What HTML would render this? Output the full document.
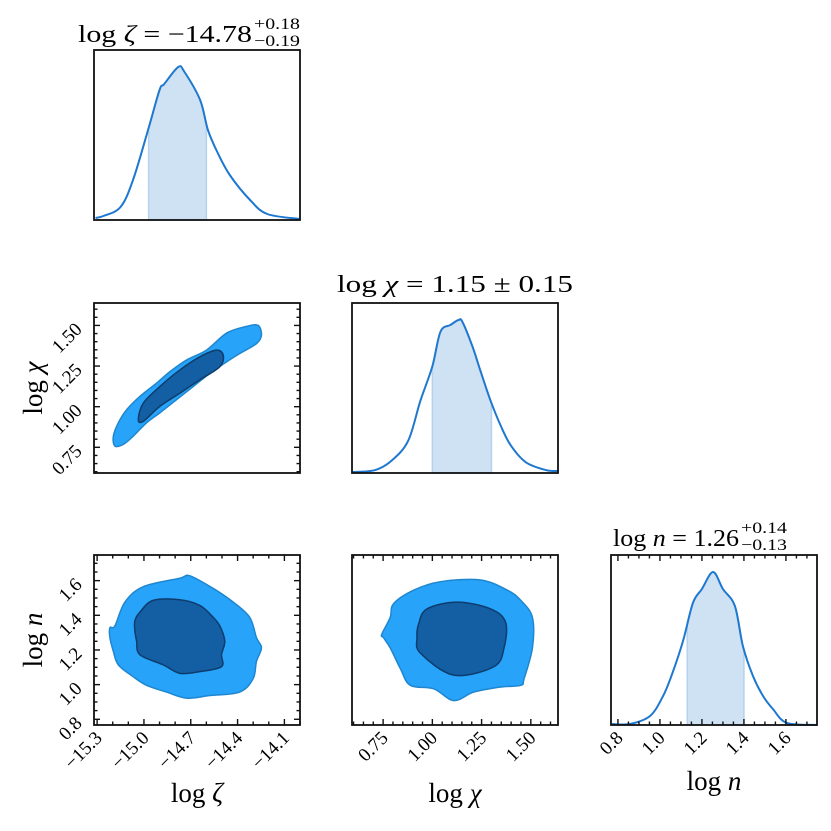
<!DOCTYPE html>
<html><head><meta charset="utf-8"><style>
html,body{margin:0;padding:0;background:#fff;}
svg{display:block;font-family:"Liberation Serif","DejaVu Serif",serif;}
</style></head><body>
<svg id="fig" width="831" height="831" viewBox="0 0 831 831" xmlns="http://www.w3.org/2000/svg">
<rect width="831" height="831" fill="#fff"/>
<g>
<text x="78" y="42" font-size="24" textLength="174" lengthAdjust="spacingAndGlyphs">log <tspan font-style="italic">ζ</tspan> = −14.78</text>
<text x="254" y="29" font-size="16" textLength="46" lengthAdjust="spacingAndGlyphs">+0.18</text>
<text x="254" y="46" font-size="16" textLength="46" lengthAdjust="spacingAndGlyphs">−0.19</text>
</g>
<g>
<text x="337" y="292" font-size="24" textLength="236" lengthAdjust="spacingAndGlyphs">log <tspan font-style="italic">χ</tspan> = 1.15 ± 0.15</text>
</g>
<g>
<text x="613" y="546" font-size="24" textLength="126" lengthAdjust="spacingAndGlyphs">log <tspan font-style="italic">n</tspan> = 1.26</text>
<text x="741" y="533" font-size="16" textLength="46" lengthAdjust="spacingAndGlyphs">+0.14</text>
<text x="741" y="550" font-size="16" textLength="46" lengthAdjust="spacingAndGlyphs">−0.13</text>
</g>
<text x="197" y="802" font-size="27" text-anchor="middle">log <tspan font-style="italic">ζ</tspan></text>
<text x="455" y="802" font-size="27" text-anchor="middle">log <tspan font-style="italic">χ</tspan></text>
<text x="714" y="790" font-size="27" text-anchor="middle">log <tspan font-style="italic">n</tspan></text>
<text x="0" y="0" font-size="27" text-anchor="middle" transform="translate(42,388) rotate(-90)">log <tspan font-style="italic">χ</tspan></text>
<text x="0" y="0" font-size="27" text-anchor="middle" transform="translate(42,640) rotate(-90)">log <tspan font-style="italic">n</tspan></text>
</svg>
<script>
const zetaGrid = [-15.31,-15.26,-15.15,-15.07,-14.97,-14.90,-14.87,-14.78,-14.74,-14.64,-14.59,-14.53,-14.45,-14.32,-14.21,-14.0];
const zetaDens = [2,4,13,40,92,130,136,153,148,120,90,68,45,20,6,1];
const chiGrid = [0.592,0.71,0.796,0.878,0.939,1.0,1.041,1.092,1.133,1.153,1.204,1.245,1.296,1.347,1.398,1.474,1.576,1.642];
const chiDens = [1,3,13,33,73,108,143,150,155,153,128,103,73,48,28,11,3,2];
const nGrid = [0.772,0.857,0.953,1.015,1.058,1.110,1.157,1.200,1.253,1.300,1.357,1.395,1.443,1.491,1.538,1.605,1.748];
const nDens = [1,1,9,29,51,84,122,136,153,136,119,79,49,29,16,2,0];
const medians = [-14.78, 1.15, 1.26];
const errLo = [0.19, 0.15, 0.13];
const errHi = [0.18, 0.15, 0.14];
const zcOuterX = [-15.186,-15.196,-15.164,-15.11,-15.026,-14.919,-14.834,-14.727,-14.599,-14.47,-14.343,-14.268,-14.247,-14.279,-14.386,-14.47,-14.578,-14.684,-14.791,-14.898,-14.983,-15.068,-15.132];
const zcOuterY = [0.758,0.819,0.901,0.982,1.063,1.145,1.215,1.287,1.348,1.453,1.494,1.50,1.439,1.388,1.327,1.276,1.205,1.124,1.043,0.962,0.901,0.819,0.768];
const zcInnerX = [-15.036,-15.004,-14.898,-14.77,-14.642,-14.535,-14.492,-14.514,-14.642,-14.77,-14.898,-15.004];
const zcInnerY = [0.921,1.022,1.124,1.226,1.307,1.348,1.317,1.246,1.165,1.083,1.002,0.910];
const znOuterX = [-15.218,-15.186,-15.122,-15.004,-14.77,-14.706,-14.556,-14.428,-14.322,-14.279,-14.247,-14.279,-14.3,-14.386,-14.578,-14.727,-14.855,-14.983,-15.068,-15.164,-15.196,-15.218];
const znOuterY = [1.329,1.339,1.476,1.565,1.614,1.628,1.555,1.476,1.388,1.271,1.212,1.134,1.035,0.957,0.937,0.922,0.957,0.996,1.045,1.114,1.192,1.271];
const znInnerX = [-15.058,-15.026,-14.941,-14.77,-14.642,-14.556,-14.514,-14.482,-14.503,-14.503,-14.642,-14.77,-14.876,-15.026,-15.047,-15.058];
const znInnerY = [1.369,1.418,1.486,1.49,1.457,1.388,1.339,1.251,1.173,1.104,1.075,1.065,1.114,1.173,1.251,1.31];
const cnOuterX = [0.743,0.786,0.803,0.905,1.041,1.245,1.381,1.449,1.508,1.508,1.466,1.449,1.347,1.211,1.109,1.007,0.888,0.837,0.786,0.752];
const cnOuterY = [1.290,1.388,1.467,1.545,1.594,1.604,1.545,1.486,1.388,1.212,1.035,0.996,0.986,0.957,0.908,0.976,0.996,1.094,1.212,1.271];
const cnInnerX = [0.93,0.973,1.126,1.296,1.372,1.364,1.313,1.109,0.939,0.922];
const cnInnerY = [1.349,1.437,1.476,1.437,1.359,1.212,1.104,1.055,1.182,1.271];
const zetaTicks = [-15.3,-15.0,-14.7,-14.4,-14.1];
const zetaTickLabels = ["−15.3","−15.0","−14.7","−14.4","−14.1"];
const chiTicks = [0.75,1.00,1.25,1.50];
const chiTickLabels = ["0.75","1.00","1.25","1.50"];
const nTicks = [0.8,1.0,1.2,1.4,1.6];
const nTickLabels = ["0.8","1.0","1.2","1.4","1.6"];

const NS = "http://www.w3.org/2000/svg";
const svg = document.getElementById('fig');
const colX = [[94,300],[352,558],[611,817]];
const rowY = [[50,220],[303,473],[555,725]];
const ranges = [[-15.32,-14.0],[0.592,1.638],[0.767,1.748]];
const minorStep = [0.1,0.05,0.05];
function sx(i,v){const [a,b]=ranges[i];return colX[i][0]+(v-a)/(b-a)*(colX[i][1]-colX[i][0]);}
function sy(i,v){const [a,b]=ranges[i];return rowY[i][1]-(v-a)/(b-a)*(rowY[i][1]-rowY[i][0]);}
function el(tag,attrs,parent){const e=document.createElementNS(NS,tag);for(const k in attrs)e.setAttribute(k,attrs[k]);(parent||svg).appendChild(e);return e;}
// Catmull-Rom smoothing
function smooth(pts,closed){
  const n=pts.length; if(n<2)return '';
  const P=k=>closed?pts[(k+n)%n]:pts[Math.max(0,Math.min(n-1,k))];
  let d=`M${pts[0][0]},${pts[0][1]}`;
  const last=closed?n:n-1;
  for(let k=0;k<last;k++){
    const p0=P(k-1),p1=P(k),p2=P(k+1),p3=P(k+2);
    const c1=[p1[0]+(p2[0]-p0[0])/6,p1[1]+(p2[1]-p0[1])/6];
    const c2=[p2[0]-(p3[0]-p1[0])/6,p2[1]-(p3[1]-p1[1])/6];
    d+=` C${c1[0]},${c1[1]} ${c2[0]},${c2[1]} ${p2[0]},${p2[1]}`;
  }
  return d+(closed?' Z':'');
}

function diag(i,grid,dens,name){
  const g=el('g',{});
  
  
  const mx=Math.max(...dens)/0.9;
  const bot=rowY[i][1],h=rowY[i][1]-rowY[i][0];
  const py=d=>bot-d/mx*h;
  const lo=medians[i]-errLo[i], hi=medians[i]+errHi[i];
  const interp=x=>{for(let k=0;k<grid.length-1;k++){if(x>=grid[k]&&x<=grid[k+1]){const t=(x-grid[k])/(grid[k+1]-grid[k]);return dens[k]+t*(dens[k+1]-dens[k]);}}return 0;};
  const inner=[[sx(i,lo),py(interp(lo))]];
  grid.forEach((x,k)=>{if(x>lo&&x<hi)inner.push([sx(i,x),py(dens[k])]);});
  inner.push([sx(i,hi),py(interp(hi))]);
  let sp=smooth(inner,false)+` L${sx(i,hi)},${bot} L${sx(i,lo)},${bot} Z`;
  const sh=el('path',{d:sp,fill:'#cfe2f3',stroke:'#b5d2ee','stroke-width':1.5},g);
  
  
  const pts=grid.map((x,k)=>[sx(i,x),py(dens[k])]);
  const ln=el('path',{d:smooth(pts,false),fill:'none',stroke:'#1f78d0','stroke-width':2,'stroke-linejoin':'round'},g);
  
  
}
function contour(ix,iy,xs,ys,fill,stroke,name){
  const pts=xs.map((x,k)=>[sx(ix,x),sy(iy,ys[k])]);
  const p=el('path',{d:smooth(pts,true),fill:fill,stroke:stroke,'stroke-width':1.5,'stroke-linejoin':'round'});
  
  
}
function ticksFor(i){return [zetaTicks,chiTicks,nTicks][i];}
function labelsFor(i){return [zetaTickLabels,chiTickLabels,nTickLabels][i];}
function frame(c,r,opts){
  const [x0,x1]=colX[c],[y0,y1]=rowY[r];
  const g=el('g',{});
  
  
  el('rect',{x:x0,y:y0,width:x1-x0,height:y1-y0,fill:'none',stroke:'#111','stroke-width':1.8},g);
  const tk=(a,b,cc,dd)=>el('line',{x1:a,y1:b,x2:cc,y2:dd,stroke:'#111','stroke-width':1.4},g);
  if(opts.xt){
    const [a,b]=ranges[c], st=minorStep[c];
    for(let v=Math.ceil(a/st-1e-6)*st; v<=b+1e-9; v+=st){
      const isMaj=ticksFor(c).some(t=>Math.abs(t-v)<1e-6);
      const L=isMaj?6:3.5, x=sx(c,v);
      tk(x,y1,x,y1-L); tk(x,y0,x,y0+L);
    }
  }
  if(opts.yt){
    const [a,b]=ranges[r], st=minorStep[r];
    for(let v=Math.ceil(a/st-1e-6)*st; v<=b+1e-9; v+=st){
      const isMaj=ticksFor(r).some(t=>Math.abs(t-v)<1e-6);
      const L=isMaj?6:3.5, y=sy(r,v);
      tk(x0,y,x0+L,y); tk(x1,y,x1-L,y);
    }
  }
}
function xLabels(c){
  const y1=rowY[2][1];
  ticksFor(c).forEach((v,k)=>{
    const x=sx(c,v)+6, y=y1+14;
    const t=el('text',{x:0,y:0,'font-size':19,'text-anchor':'end',transform:`translate(${x},${y}) rotate(-45)`});
    t.textContent=labelsFor(c)[k];
    
    
  });
}
function yLabels(r){
  const x0=colX[0][0];
  ticksFor(r).forEach((v,k)=>{
    const y=sy(r,v)+5, x=x0-11;
    const t=el('text',{x:0,y:0,'font-size':19,'text-anchor':'end',transform:`translate(${x},${y}) rotate(-45)`});
    t.textContent=labelsFor(r)[k];
    
    
  });
}

diag(0,zetaGrid,zetaDens,'hist-zeta');
diag(1,chiGrid,chiDens,'hist-chi');
diag(2,nGrid,nDens,'hist-n');
contour(0,1,zcOuterX,zcOuterY,'#27a3fa','#1f86cf','contour-zeta-chi-outer');
contour(0,1,zcInnerX,zcInnerY,'#145ea3','#0d3d6c','contour-zeta-chi-inner');
contour(0,2,znOuterX,znOuterY,'#27a3fa','#1f86cf','contour-zeta-n-outer');
contour(0,2,znInnerX,znInnerY,'#145ea3','#0d3d6c','contour-zeta-n-inner');
contour(1,2,cnOuterX,cnOuterY,'#27a3fa','#1f86cf','contour-chi-n-outer');
contour(1,2,cnInnerX,cnInnerY,'#145ea3','#0d3d6c','contour-chi-n-inner');
frame(0,0,{});
frame(1,1,{});
frame(0,1,{yt:true});
frame(0,2,{xt:true,yt:true});
frame(1,2,{xt:true});
frame(2,2,{xt:true});
xLabels(0);xLabels(1);xLabels(2);
yLabels(1);yLabels(2);
</script>
</body></html>
